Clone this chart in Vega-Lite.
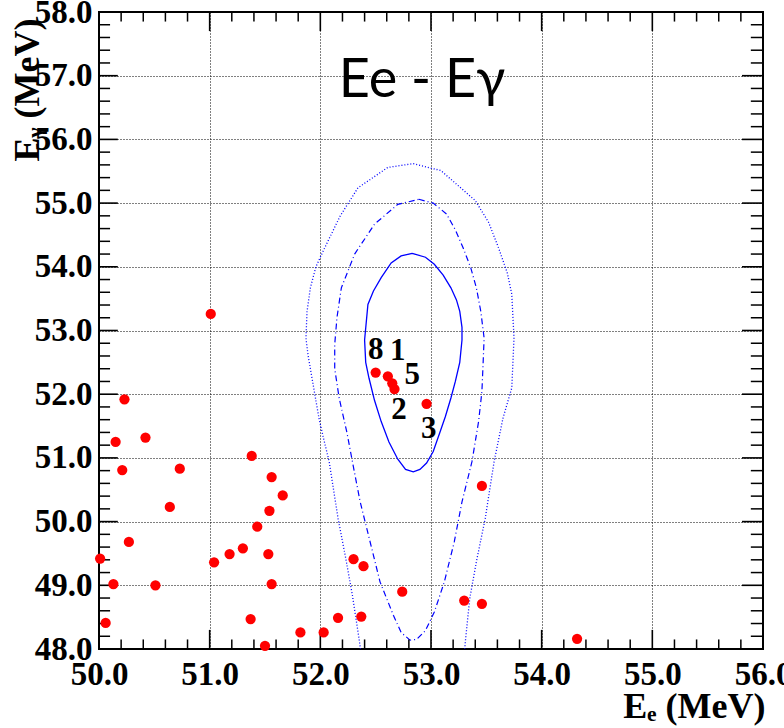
{
  "$schema": "https://vega.github.io/schema/vega-lite/v6.json",
  "width": 664,
  "height": 637,
  "autosize": {"type": "none"},
  "padding": {"left": 99, "top": 12, "right": 21, "bottom": 79},
  "background": "white",
  "config": {
    "view": {"stroke": "black", "strokeWidth": 2},
    "axis": {
      "labelFont": "Liberation Serif", "labelFontWeight": "bold", "labelFontSize": 33, "labelColor": "black",
      "titleFont": "Liberation Serif", "titleFontWeight": "bold", "titleFontSize": 36, "titleColor": "black",
      "domain": false, "labelOverlap": false, "labelFlush": false, "labelBound": false
    }
  },
  "datasets": {
    "events": [
      {"Ee": 50.01, "Eg": 49.42}, {"Ee": 50.06, "Eg": 48.41}, {"Ee": 50.13, "Eg": 49.02}, {"Ee": 50.15, "Eg": 51.25},
      {"Ee": 50.21, "Eg": 50.81}, {"Ee": 50.23, "Eg": 51.92}, {"Ee": 50.27, "Eg": 49.68}, {"Ee": 50.42, "Eg": 51.32},
      {"Ee": 50.51, "Eg": 49.00}, {"Ee": 50.64, "Eg": 50.23}, {"Ee": 50.73, "Eg": 50.83}, {"Ee": 51.01, "Eg": 53.26},
      {"Ee": 51.04, "Eg": 49.36}, {"Ee": 51.18, "Eg": 49.49}, {"Ee": 51.30, "Eg": 49.58}, {"Ee": 51.38, "Eg": 51.03},
      {"Ee": 51.37, "Eg": 48.47}, {"Ee": 51.43, "Eg": 49.92}, {"Ee": 51.50, "Eg": 48.05}, {"Ee": 51.53, "Eg": 49.49},
      {"Ee": 51.54, "Eg": 50.17}, {"Ee": 51.56, "Eg": 50.70}, {"Ee": 51.56, "Eg": 49.02}, {"Ee": 51.66, "Eg": 50.41},
      {"Ee": 51.82, "Eg": 48.26}, {"Ee": 52.03, "Eg": 48.26}, {"Ee": 52.16, "Eg": 48.49}, {"Ee": 52.30, "Eg": 49.41},
      {"Ee": 52.39, "Eg": 49.30}, {"Ee": 52.37, "Eg": 48.51}, {"Ee": 52.74, "Eg": 48.90}, {"Ee": 53.30, "Eg": 48.76},
      {"Ee": 53.46, "Eg": 48.71}, {"Ee": 53.46, "Eg": 50.56}, {"Ee": 54.32, "Eg": 48.16}, {"Ee": 52.50, "Eg": 52.34},
      {"Ee": 52.61, "Eg": 52.28}, {"Ee": 52.65, "Eg": 52.17}, {"Ee": 52.67, "Eg": 52.08}, {"Ee": 52.96, "Eg": 51.85}
    ],
    "c1": [
      {"i": 0, "Ee": 52.83, "Eg": 54.21}, {"i": 1, "Ee": 52.95, "Eg": 54.15}, {"i": 2, "Ee": 53.03, "Eg": 54.04},
      {"i": 3, "Ee": 53.11, "Eg": 53.87}, {"i": 4, "Ee": 53.18, "Eg": 53.67}, {"i": 5, "Ee": 53.23, "Eg": 53.48},
      {"i": 6, "Ee": 53.26, "Eg": 53.30}, {"i": 7, "Ee": 53.28, "Eg": 53.05}, {"i": 8, "Ee": 53.28, "Eg": 52.85},
      {"i": 9, "Ee": 53.26, "Eg": 52.50}, {"i": 10, "Ee": 53.22, "Eg": 52.20}, {"i": 11, "Ee": 53.18, "Eg": 51.94},
      {"i": 12, "Ee": 53.13, "Eg": 51.65}, {"i": 13, "Ee": 53.08, "Eg": 51.40}, {"i": 14, "Ee": 53.02, "Eg": 51.10},
      {"i": 15, "Ee": 52.96, "Eg": 50.92}, {"i": 16, "Ee": 52.90, "Eg": 50.82}, {"i": 17, "Ee": 52.84, "Eg": 50.78},
      {"i": 18, "Ee": 52.77, "Eg": 50.82}, {"i": 19, "Ee": 52.70, "Eg": 50.98}, {"i": 20, "Ee": 52.62, "Eg": 51.25},
      {"i": 21, "Ee": 52.55, "Eg": 51.57}, {"i": 22, "Ee": 52.49, "Eg": 51.90}, {"i": 23, "Ee": 52.44, "Eg": 52.25},
      {"i": 24, "Ee": 52.41, "Eg": 52.50}, {"i": 25, "Ee": 52.40, "Eg": 52.85}, {"i": 26, "Ee": 52.43, "Eg": 53.41},
      {"i": 27, "Ee": 52.48, "Eg": 53.62}, {"i": 28, "Ee": 52.55, "Eg": 53.83}, {"i": 29, "Ee": 52.64, "Eg": 54.06},
      {"i": 30, "Ee": 52.73, "Eg": 54.17}, {"i": 31, "Ee": 52.83, "Eg": 54.21}
    ],
    "c2": [
      {"i": 0, "Ee": 52.89, "Eg": 55.06}, {"i": 1, "Ee": 53.02, "Eg": 55.00}, {"i": 2, "Ee": 53.14, "Eg": 54.83},
      {"i": 3, "Ee": 53.22, "Eg": 54.58}, {"i": 4, "Ee": 53.29, "Eg": 54.30}, {"i": 5, "Ee": 53.36, "Eg": 53.98},
      {"i": 6, "Ee": 53.41, "Eg": 53.67}, {"i": 7, "Ee": 53.45, "Eg": 53.30}, {"i": 8, "Ee": 53.48, "Eg": 52.88},
      {"i": 9, "Ee": 53.47, "Eg": 52.45}, {"i": 10, "Ee": 53.46, "Eg": 52.04}, {"i": 11, "Ee": 53.43, "Eg": 51.57},
      {"i": 12, "Ee": 53.37, "Eg": 50.94}, {"i": 13, "Ee": 53.28, "Eg": 50.31}, {"i": 14, "Ee": 53.21, "Eg": 49.68},
      {"i": 15, "Ee": 53.12, "Eg": 49.05}, {"i": 16, "Ee": 53.03, "Eg": 48.58}, {"i": 17, "Ee": 52.95, "Eg": 48.29},
      {"i": 18, "Ee": 52.87, "Eg": 48.15}, {"i": 19, "Ee": 52.81, "Eg": 48.14}, {"i": 20, "Ee": 52.73, "Eg": 48.26},
      {"i": 21, "Ee": 52.66, "Eg": 48.53}, {"i": 22, "Ee": 52.54, "Eg": 49.05}, {"i": 23, "Ee": 52.45, "Eg": 49.68},
      {"i": 24, "Ee": 52.36, "Eg": 50.31}, {"i": 25, "Ee": 52.29, "Eg": 50.94}, {"i": 26, "Ee": 52.24, "Eg": 51.40},
      {"i": 27, "Ee": 52.17, "Eg": 51.94}, {"i": 28, "Ee": 52.13, "Eg": 52.40}, {"i": 29, "Ee": 52.13, "Eg": 52.78},
      {"i": 30, "Ee": 52.15, "Eg": 53.20}, {"i": 31, "Ee": 52.19, "Eg": 53.67}, {"i": 32, "Ee": 52.31, "Eg": 54.20},
      {"i": 33, "Ee": 52.49, "Eg": 54.67}, {"i": 34, "Ee": 52.70, "Eg": 54.98}, {"i": 35, "Ee": 52.89, "Eg": 55.06}
    ],
    "c3": [
      {"i": 0, "Ee": 52.37, "Eg": 47.90}, {"i": 1, "Ee": 52.35, "Eg": 48.16}, {"i": 2, "Ee": 52.29, "Eg": 48.84},
      {"i": 3, "Ee": 52.23, "Eg": 49.42}, {"i": 4, "Ee": 52.16, "Eg": 50.05}, {"i": 5, "Ee": 52.08, "Eg": 50.94},
      {"i": 6, "Ee": 52.03, "Eg": 51.30}, {"i": 7, "Ee": 51.99, "Eg": 51.60}, {"i": 8, "Ee": 51.94, "Eg": 52.10},
      {"i": 9, "Ee": 51.89, "Eg": 52.60}, {"i": 10, "Ee": 51.87, "Eg": 52.88}, {"i": 11, "Ee": 51.88, "Eg": 53.30},
      {"i": 12, "Ee": 51.91, "Eg": 53.67}, {"i": 13, "Ee": 51.96, "Eg": 54.00}, {"i": 14, "Ee": 52.04, "Eg": 54.30},
      {"i": 15, "Ee": 52.18, "Eg": 54.80}, {"i": 16, "Ee": 52.34, "Eg": 55.24}, {"i": 17, "Ee": 52.61, "Eg": 55.56},
      {"i": 18, "Ee": 52.84, "Eg": 55.62}, {"i": 19, "Ee": 53.09, "Eg": 55.51}, {"i": 20, "Ee": 53.40, "Eg": 55.04},
      {"i": 21, "Ee": 53.52, "Eg": 54.70}, {"i": 22, "Ee": 53.61, "Eg": 54.30}, {"i": 23, "Ee": 53.69, "Eg": 53.90},
      {"i": 24, "Ee": 53.73, "Eg": 53.57}, {"i": 25, "Ee": 53.75, "Eg": 52.88}, {"i": 26, "Ee": 53.73, "Eg": 52.10},
      {"i": 27, "Ee": 53.65, "Eg": 51.62}, {"i": 28, "Ee": 53.57, "Eg": 50.94}, {"i": 29, "Ee": 53.49, "Eg": 50.05},
      {"i": 30, "Ee": 53.41, "Eg": 49.37}, {"i": 31, "Ee": 53.35, "Eg": 48.79}, {"i": 32, "Ee": 53.31, "Eg": 48.11},
      {"i": 33, "Ee": 53.30, "Eg": 47.90}
    ],
    "tags": [
      {"Ee": 52.50, "Eg": 52.69, "tag": "8"}, {"Ee": 52.70, "Eg": 52.68, "tag": "1"},
      {"Ee": 52.83, "Eg": 52.30, "tag": "5"}, {"Ee": 52.71, "Eg": 51.75, "tag": "2"},
      {"Ee": 52.98, "Eg": 51.46, "tag": "3"}
    ],
    "caption": [{"Ee": 52.92, "Eg": 56.67, "text": "Ee - Eγ"}],
    "xmajor": [{"v": 51}, {"v": 52}, {"v": 53}, {"v": 54}, {"v": 55}],
    "xminor": [
      {"v": 50.2}, {"v": 50.4}, {"v": 50.6}, {"v": 50.8}, {"v": 51.2}, {"v": 51.4}, {"v": 51.6}, {"v": 51.8},
      {"v": 52.2}, {"v": 52.4}, {"v": 52.6}, {"v": 52.8}, {"v": 53.2}, {"v": 53.4}, {"v": 53.6}, {"v": 53.8},
      {"v": 54.2}, {"v": 54.4}, {"v": 54.6}, {"v": 54.8}, {"v": 55.2}, {"v": 55.4}, {"v": 55.6}, {"v": 55.8}
    ],
    "ymajor": [{"v": 49}, {"v": 50}, {"v": 51}, {"v": 52}, {"v": 53}, {"v": 54}, {"v": 55}, {"v": 56}, {"v": 57}],
    "yminor": [
      {"v": 48.2}, {"v": 48.4}, {"v": 48.6}, {"v": 48.8}, {"v": 49.2}, {"v": 49.4}, {"v": 49.6}, {"v": 49.8},
      {"v": 50.2}, {"v": 50.4}, {"v": 50.6}, {"v": 50.8}, {"v": 51.2}, {"v": 51.4}, {"v": 51.6}, {"v": 51.8},
      {"v": 52.2}, {"v": 52.4}, {"v": 52.6}, {"v": 52.8}, {"v": 53.2}, {"v": 53.4}, {"v": 53.6}, {"v": 53.8},
      {"v": 54.2}, {"v": 54.4}, {"v": 54.6}, {"v": 54.8}, {"v": 55.2}, {"v": 55.4}, {"v": 55.6}, {"v": 55.8},
      {"v": 56.2}, {"v": 56.4}, {"v": 56.6}, {"v": 56.8}, {"v": 57.2}, {"v": 57.4}, {"v": 57.6}, {"v": 57.8}
    ]
  },
  "layer": [
    {
      "data": {"name": "c3"},
      "mark": {"type": "line", "color": "#0000ff", "strokeWidth": 1.3, "strokeDash": [1, 2], "clip": true},
      "encoding": {
        "x": {"field": "Ee", "type": "quantitative", "scale": {"domain": [50, 56], "nice": false, "zero": false},
          "axis": {"orient": "bottom", "values": [50, 51, 52, 53, 54, 55, 56], "ticks": false, "labelPadding": 9,
            "grid": true, "gridColor": "black", "gridDash": [1, 2], "gridWidth": 1, "gridOpacity": 1,
            "title": "Eₑ (MeV)", "titleAnchor": "end", "titleAlign": "right", "titleX": 666, "titleY": 68, "titleBaseline": "alphabetic"}},
        "y": {"field": "Eg", "type": "quantitative", "scale": {"domain": [48, 58], "nice": false, "zero": false},
          "axis": {"orient": "left", "values": [48, 49, 50, 51, 52, 53, 54, 55, 56, 57, 58], "ticks": false, "labelPadding": 7,
            "grid": true, "gridColor": "black", "gridDash": [1, 2], "gridWidth": 1, "gridOpacity": 1,
            "title": "Eᵧ (MeV)", "titleAngle": -90, "titleAlign": "right", "titleBaseline": "middle", "titleX": -72, "titleY": 6}},
        "order": {"field": "i", "type": "quantitative"}
      }
    },
    {
      "data": {"name": "c2"},
      "mark": {"type": "line", "color": "#0000ff", "strokeWidth": 1.2, "strokeDash": [6, 3, 1, 3], "clip": true},
      "encoding": {
        "x": {"field": "Ee", "type": "quantitative"},
        "y": {"field": "Eg", "type": "quantitative"},
        "order": {"field": "i", "type": "quantitative"}
      }
    },
    {
      "data": {"name": "c1"},
      "mark": {"type": "line", "color": "#0000ff", "strokeWidth": 1.3, "clip": true},
      "encoding": {
        "x": {"field": "Ee", "type": "quantitative"},
        "y": {"field": "Eg", "type": "quantitative"},
        "order": {"field": "i", "type": "quantitative"}
      }
    },
    {
      "data": {"name": "xmajor"},
      "mark": {"type": "rule", "color": "black", "strokeWidth": 1.6},
      "encoding": {
        "x": {"field": "v", "type": "quantitative"},
        "y": {"datum": 48, "type": "quantitative"},
        "y2": {"datum": 48.3}
      }
    },
    {
      "data": {"name": "xmajor"},
      "mark": {"type": "rule", "color": "black", "strokeWidth": 1.6},
      "encoding": {
        "x": {"field": "v", "type": "quantitative"},
        "y": {"datum": 58, "type": "quantitative"},
        "y2": {"datum": 57.7}
      }
    },
    {
      "data": {"name": "xminor"},
      "mark": {"type": "rule", "color": "black", "strokeWidth": 1.5},
      "encoding": {
        "x": {"field": "v", "type": "quantitative"},
        "y": {"datum": 48, "type": "quantitative"},
        "y2": {"datum": 48.15}
      }
    },
    {
      "data": {"name": "xminor"},
      "mark": {"type": "rule", "color": "black", "strokeWidth": 1.5},
      "encoding": {
        "x": {"field": "v", "type": "quantitative"},
        "y": {"datum": 58, "type": "quantitative"},
        "y2": {"datum": 57.85}
      }
    },
    {
      "data": {"name": "ymajor"},
      "mark": {"type": "rule", "color": "black", "strokeWidth": 1.6},
      "encoding": {
        "y": {"field": "v", "type": "quantitative"},
        "x": {"datum": 50, "type": "quantitative"},
        "x2": {"datum": 50.17}
      }
    },
    {
      "data": {"name": "ymajor"},
      "mark": {"type": "rule", "color": "black", "strokeWidth": 1.6},
      "encoding": {
        "y": {"field": "v", "type": "quantitative"},
        "x": {"datum": 56, "type": "quantitative"},
        "x2": {"datum": 55.81}
      }
    },
    {
      "data": {"name": "yminor"},
      "mark": {"type": "rule", "color": "black", "strokeWidth": 1.5},
      "encoding": {
        "y": {"field": "v", "type": "quantitative"},
        "x": {"datum": 50, "type": "quantitative"},
        "x2": {"datum": 50.1}
      }
    },
    {
      "data": {"name": "yminor"},
      "mark": {"type": "rule", "color": "black", "strokeWidth": 1.5},
      "encoding": {
        "y": {"field": "v", "type": "quantitative"},
        "x": {"datum": 56, "type": "quantitative"},
        "x2": {"datum": 55.89}
      }
    },
    {
      "data": {"name": "events"},
      "mark": {"type": "point", "shape": "circle", "filled": true, "color": "#ff0000", "opacity": 1, "size": 105},
      "encoding": {
        "x": {"field": "Ee", "type": "quantitative"},
        "y": {"field": "Eg", "type": "quantitative"}
      }
    },
    {
      "data": {"name": "tags"},
      "mark": {"type": "text", "font": "Liberation Serif", "fontWeight": "bold", "fontSize": 31, "color": "black", "align": "center", "baseline": "middle"},
      "encoding": {
        "x": {"field": "Ee", "type": "quantitative"},
        "y": {"field": "Eg", "type": "quantitative"},
        "text": {"field": "tag"}
      }
    },
    {
      "data": {"name": "caption"},
      "mark": {"type": "text", "font": "Lato", "fontSize": 54, "color": "black", "align": "center", "baseline": "alphabetic"},
      "encoding": {
        "x": {"field": "Ee", "type": "quantitative"},
        "y": {"field": "Eg", "type": "quantitative"},
        "text": {"field": "text"}
      }
    }
  ]
}
